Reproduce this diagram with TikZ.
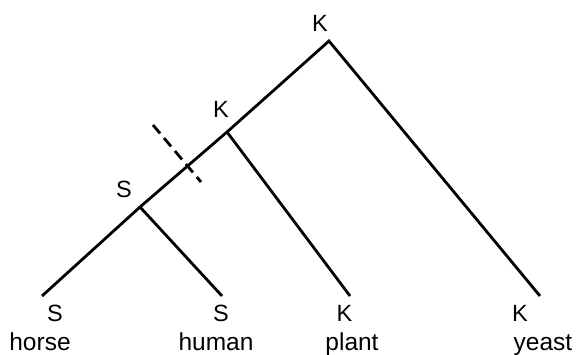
\documentclass[tikz,border=0pt]{standalone}
\usepackage{fontspec}
\setmainfont{Liberation Sans}
\begin{document}
\begin{tikzpicture}[x=1pt,y=-1pt,
  branch/.style={line width=2.8pt,line cap=butt},
  lab/.style={font=\fontsize{23.5}{26}\selectfont,inner sep=0pt,anchor=base},
  word/.style={font=\fontsize{24.5}{27}\selectfont,inner sep=0pt,anchor=base},
  cut/.style={line width=2.8pt,dash pattern=on 11pt off 6pt}]
\useasboundingbox (0,0) rectangle (577,355);
\coordinate (root) at (329,41);
\coordinate (k1) at (227,132);
\coordinate (s1) at (140,207);
\coordinate (horse) at (42,296);
\coordinate (human) at (222,296);
\coordinate (plant) at (350,296);
\coordinate (yeast) at (540,296);
\coordinate (c1) at (153,125);
\coordinate (c2) at (201,182);
\draw[branch] (horse) -- (s1) -- (k1) -- (root) -- (yeast);
\draw[branch] (s1) -- (human);
\draw[branch] (k1) -- (plant);
\draw[cut] (c1) -- (c2);
\node[lab] (lroot) at (320,32) {K};
\node[lab] (lk1) at (221,118) {K};
\node[lab] (ls1) at (124,197) {S};
\node[lab] (lhs) at (55,321) {S};
\node[lab] (lhus) at (221,321) {S};
\node[lab] (lpk) at (344.5,321) {K};
\node[lab] (lyk) at (520,321) {K};
\node[word] (whorse) at (40,350) {horse};
\node[word] (whuman) at (216,350) {human};
\node[word] (wplant) at (352,350) {plant};
\node[word] (wyeast) at (543,350) {yeast};
\end{tikzpicture}
\end{document}
